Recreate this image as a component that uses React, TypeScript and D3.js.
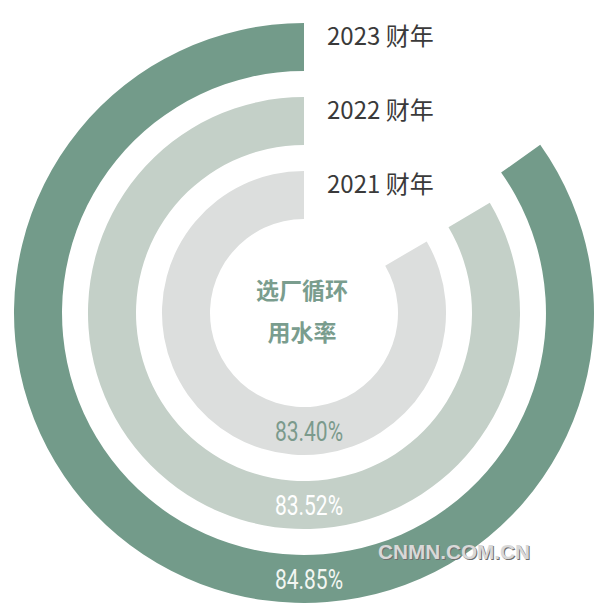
import React from "react";
import * as d3 from "d3";

// ---- data ----
const years: string[] = ["2021 财年", "2022 财年", "2023 财年"];
const rates: number[] = [83.4, 83.52, 84.85];
const rateLabels: string[] = ["83.40%", "83.52%", "84.85%"];
const centerTitle: string[] = ["选厂循环", "用水率"];
const watermark = "CNMN.COM.CN";

// ---- styles ----
const ringColors = ["#dcdedd", "#c4d0c8", "#739b8a"];
const valueColors = ["#7b9a8c", "#ffffff", "#f2f6f2"];

export default function App() {
  const W = 606;
  const H = 613;
  const cx = 304;
  const cy = 313;

  const rScale = d3
    .scaleBand<string>()
    .domain(years)
    .range([94, 290])
    .paddingInner(0.351)
    .paddingOuter(0);
  const aScale = d3.scaleLinear().domain([0, 100]).range([0, 2 * Math.PI]);
  const arc = d3.arc<any>();

  return (
    <svg
      width={W}
      height={H}
      style={{ position: "absolute", left: 0, top: 0, background: "#fff" }}
    >
      <g transform={`translate(${cx},${cy})`}>
        {years.map((y, i) => {
          const r0 = rScale(y)!;
          const r1 = r0 + rScale.bandwidth();
          const d = arc({
            innerRadius: r0,
            outerRadius: r1,
            startAngle: 2 * Math.PI - aScale(rates[i]),
            endAngle: 2 * Math.PI,
          }) as string;
          return <path key={y} d={d} fill={ringColors[i]} />;
        })}
        {years.map((y, i) => {
          const mid = rScale(y)! + rScale.bandwidth() / 2;
          return (
            <text
              key={"yl" + y}
              x={23}
              y={-mid - 2}
              fontFamily="'Noto Sans CJK SC', sans-serif"
              fontSize={24}
              fill="#3a3a3a"
            >
              {y}
            </text>
          );
        })}
        {years.map((y, i) => {
          const mid = rScale(y)! + rScale.bandwidth() / 2;
          return (
            <text
              key={"vl" + y}
              x={5}
              y={mid + 10}
              textAnchor="middle"
              fontFamily="Roboto, 'Noto Sans', sans-serif"
              fontSize={27}
              textLength={68}
              lengthAdjust="spacingAndGlyphs"
              fill={valueColors[i]}
            >
              {rateLabels[i]}
            </text>
          );
        })}
        {centerTitle.map((t, i) => (
          <text
            key={t}
            x={-2}
            y={-22 + i * 42 + 8}
            textAnchor="middle"
            fontFamily="'Noto Sans CJK SC', sans-serif"
            fontWeight={700}
            fontSize={23}
            fill="#7a9d8e"
          >
            {t}
          </text>
        ))}
      </g>
      <text
        x={454}
        y={559}
        textAnchor="middle"
        fontFamily="'Liberation Sans', Arial, sans-serif"
        fontWeight={700}
        fontSize={20}
        textLength={152}
        lengthAdjust="spacingAndGlyphs"
        fill="#6f6f6f"
        dx={1}
        dy={1}
      >
        {watermark}
      </text>
      <text
        x={454}
        y={559}
        textAnchor="middle"
        fontFamily="'Liberation Sans', Arial, sans-serif"
        fontWeight={700}
        fontSize={20}
        textLength={152}
        lengthAdjust="spacingAndGlyphs"
        fill="#d8d8d8"
      >
        {watermark}
      </text>
    </svg>
  );
}
